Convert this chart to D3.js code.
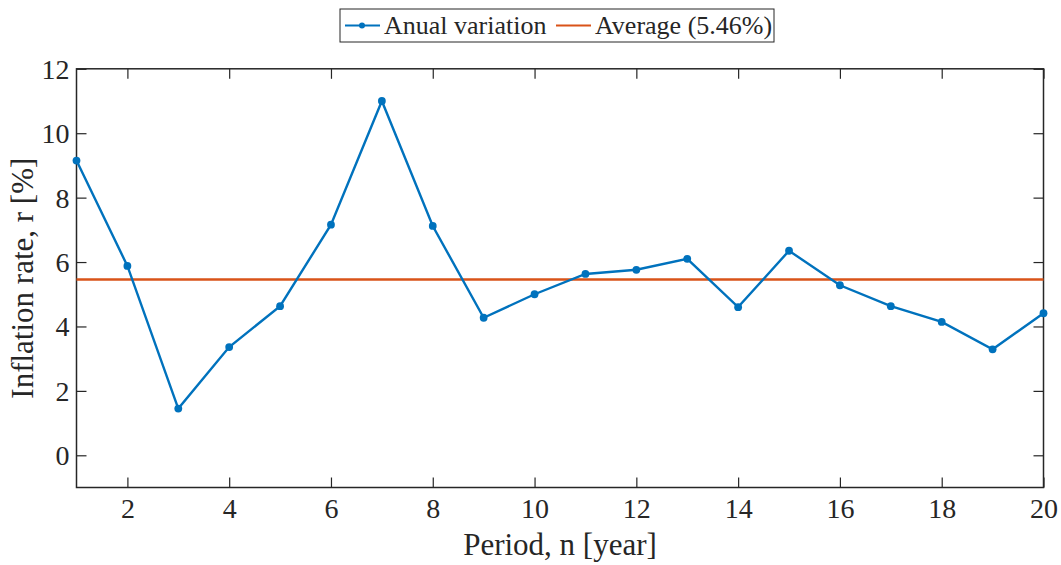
<!DOCTYPE html>
<html><head><meta charset="utf-8">
<script src="https://cdn.jsdelivr.net/npm/d3@7"></script>
<style>body{margin:0;background:#fff;} svg{display:block;} text{font-family:"Liberation Serif","Times New Roman",serif;fill:#262626;}</style>
</head><body><svg id="c" width="1061" height="565"></svg>
<script>
const periods = [1,2,3,4,5,6,7,8,9,10,11,12,13,14,15,16,17,18,19,20];
const inflation = [9.15,5.88,1.45,3.36,4.63,7.16,11.0,7.12,4.27,5.00,5.63,5.76,6.10,4.60,6.35,5.28,4.63,4.14,3.29,4.41];
const average = 5.46;
const xTicks = [2,4,6,8,10,12,14,16,18,20];
const yTicks = [0,2,4,6,8,10,12];
const seriesNames = ["Anual variation", "Average (5.46%)"];

const svg = d3.select("#c");
const L = 76.5, R = 1043.5, T = 68.8, B = 487.5;
const x = d3.scaleLinear().domain([1,20]).range([L,R]);
const y = d3.scaleLinear().domain([-1,12]).range([B,T]);
const axc = "#262626";
const FF = "'Liberation Serif', 'Times New Roman', serif";

// axes
const gx = svg.append("g").attr("transform",`translate(0,${B})`)
  .call(d3.axisBottom(x).tickValues(xTicks).tickSize(-10).tickFormat(d3.format("d")));
const gxt = svg.append("g").attr("transform",`translate(0,${T})`)
  .call(d3.axisTop(x).tickValues(xTicks).tickSize(-10).tickFormat(""));
const gy = svg.append("g").attr("transform",`translate(${L},0)`)
  .call(d3.axisLeft(y).tickValues(yTicks).tickSize(-10).tickPadding(7).tickFormat(d3.format("d")));
const gyr = svg.append("g").attr("transform",`translate(${R},0)`)
  .call(d3.axisRight(y).tickValues(yTicks).tickSize(-10).tickFormat(""));
[gx,gxt,gy,gyr].forEach(g=>{
  g.attr("font-family",FF);
  g.select(".domain").remove();
  g.selectAll(".tick line").attr("stroke",axc).attr("stroke-width",1.2);
  g.selectAll(".tick text").attr("font-size",28).style("fill",axc).style("font-family",FF);
});
gx.selectAll(".tick text").attr("y",30).attr("dy",0);
gy.selectAll(".tick text").attr("dy","0.34em");
svg.append("rect").attr("x",L).attr("y",T).attr("width",R-L).attr("height",B-T)
  .attr("fill","none").attr("stroke",axc).attr("stroke-width",1.5);

// average line
svg.append("line").attr("x1",L).attr("x2",R).attr("y1",y(average)).attr("y2",y(average))
  .attr("stroke","#D95319").attr("stroke-width",2.6);

// series
const data = periods.map((p,i)=>({p,v:inflation[i]}));
svg.append("path").datum(data)
  .attr("d",d3.line().x(d=>x(d.p)).y(d=>y(d.v)))
  .attr("fill","none").attr("stroke","#0072BD").attr("stroke-width",2.4);
svg.selectAll("circle.m").data(data).enter().append("circle")
  .attr("cx",d=>x(d.p)).attr("cy",d=>y(d.v)).attr("r",3.9).attr("fill","#0072BD");

// axis labels
svg.append("text").attr("x",(L+R)/2).attr("y",555).attr("text-anchor","middle")
  .attr("font-size",31).style("font-family",FF).text("Period, n [year]");
svg.append("text").attr("transform",`translate(33,${(T+B)/2}) rotate(-90)`).attr("text-anchor","middle")
  .attr("font-size",31).style("font-family",FF).text("Inflation rate, r [%]");

// legend
const lg = svg.append("g");
lg.append("rect").attr("x",340).attr("y",9).attr("width",434).attr("height",33)
  .attr("fill","#fff").attr("stroke",axc).attr("stroke-width",1);
lg.append("line").attr("x1",345).attr("x2",380).attr("y1",25.5).attr("y2",25.5).attr("stroke","#0072BD").attr("stroke-width",2);
lg.append("circle").attr("cx",362).attr("cy",25.5).attr("r",3).attr("fill","#0072BD");
lg.append("text").attr("x",384).attr("y",34).attr("font-size",26).style("font-family",FF).text(seriesNames[0]);
lg.append("line").attr("x1",556).attr("x2",591).attr("y1",25.5).attr("y2",25.5).attr("stroke","#D95319").attr("stroke-width",2);
lg.append("text").attr("x",595).attr("y",34).attr("font-size",26).style("font-family",FF).text(seriesNames[1]);
</script></body></html>
